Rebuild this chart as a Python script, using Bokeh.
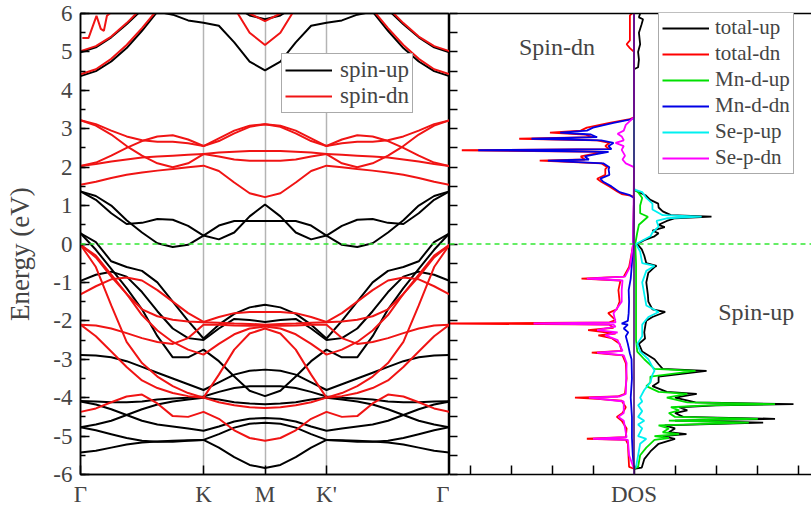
from bokeh.plotting import figure
from bokeh.models import (FixedTicker, Span, Label, Legend, LegendItem,
                          LinearAxis, Range1d)
from bokeh.layouts import row
from bokeh.embed import file_html
from bokeh.resources import INLINE

FONT = "Liberation Serif"

# ---------------- band structure data ----------------
# k-points along Γ -> K -> M (path Γ-K-M-K'-Γ is mirror-symmetric about M)
K_HALF = [0.0, 0.25, 0.5, 0.75, 1.0, 1.25, 1.5, 1.75, 2.0, 2.25, 2.5, 2.75, 3.0]
K_TICKS = [0, 2, 3, 4, 6]
K_TICK_LABELS = ["Γ", "K", "M", "K'", "Γ"]
E_TICKS = [-6, -5, -4, -3, -2, -1, 0, 1, 2, 3, 4, 5, 6]
E_TICK_LABELS = ["-6", "-5", "-4", "-3", "-2", "-1", "0", "1", "2", "3", "4", "5", "6"]

# spin-up bands (eV)
up_c1 = [4.37, 4.5, 4.75, 5.1, 5.55, 6.05, 5.97, 5.82, 5.76, 5.68, 5.25, 4.75, 4.52]
up_c2 = [4.99, 5.12, 5.38, 5.72, 6.1, 6.4, 6.5, 6.5, 6.5, 6.4, 6.2, 5.95, 5.85]
up_f1 = [1.37, 1.15, 0.8, 0.52, 0.55, 0.65, 0.63, 0.47, 0.22, 0.12, 0.3, 0.72, 1.03]
up_f2 = [1.37, 1.25, 1.0, 0.62, 0.3, 0.02, -0.08, -0.02, 0.22, 0.48, 0.6, 0.6, 0.6]
up_v1 = [0.28, 0.05, -0.45, -0.6, -0.7, -1.0, -1.5, -2.0, -2.46, -2.1, -1.82, -1.65, -1.58]
up_v2 = [0.28, -0.15, -0.65, -1.15, -1.7, -2.4, -2.95, -2.95, -2.75, -3.05, -3.45, -3.82, -3.96]
up_v3 = [-0.96, -0.8, -0.72, -0.85, -1.25, -1.75, -2.2, -2.45, -2.5, -2.2, -1.95, -1.98, -2.03]
up_v4 = [-2.89, -2.9, -2.95, -3.05, -3.2, -3.35, -3.5, -3.65, -3.8, -3.6, -3.4, -3.3, -3.27]
up_v5 = [-4.09, -4.1, -4.12, -4.12, -4.1, -4.05, -4.02, -4.0, -3.97, -3.85, -3.75, -3.7, -3.7]
up_v6 = [-4.1, -4.18, -4.3, -4.45, -4.6, -4.7, -4.75, -4.8, -4.86, -4.75, -4.62, -4.55, -4.53]
up_v7 = [-4.77, -4.7, -4.6, -4.45, -4.3, -4.18, -4.1, -4.05, -4.0, -4.05, -4.12, -4.15, -4.17]
up_v8 = [-4.77, -4.85, -4.95, -5.05, -5.12, -5.15, -5.15, -5.12, -5.1, -4.95, -4.78, -4.68, -4.65]
up_v9 = [-5.43, -5.38, -5.3, -5.22, -5.17, -5.14, -5.12, -5.11, -5.1, -5.3, -5.55, -5.75, -5.83]

# spin-dn bands (eV)
dn_c1 = [4.42, 4.55, 4.82, 5.18, 5.62, 6.1, 6.5, 6.6, 6.6, 6.5, 6.15, 5.5, 5.18]
dn_c2 = [5.02, 5.15, 5.4, 5.75, 6.15, 6.5, 6.6, 6.6, 6.6, 6.5, 6.3, 6.0, 5.8]
dn_d1 = [3.22, 3.08, 2.85, 2.55, 2.3, 2.1, 2.0, 2.1, 2.34, 2.38, 2.4, 2.42, 2.42]
dn_d2 = [3.22, 3.12, 2.95, 2.8, 2.7, 2.66, 2.66, 2.62, 2.55, 2.75, 2.95, 3.08, 3.12]
dn_d3 = [2.03, 2.12, 2.3, 2.5, 2.68, 2.8, 2.83, 2.72, 2.55, 2.68, 2.88, 3.05, 3.12]
dn_d4 = [2.03, 2.08, 2.15, 2.2, 2.25, 2.28, 2.3, 2.32, 2.34, 2.28, 2.2, 2.17, 2.17]
dn_d5 = [1.54, 1.62, 1.72, 1.8, 1.86, 1.91, 1.95, 2.0, 2.04, 1.9, 1.6, 1.32, 1.22]
dn_v1 = [-0.02, -0.3, -0.8, -1.3, -1.7, -1.88, -1.97, -2.02, -2.04, -2.05, -2.07, -2.08, -2.1]
dn_v2 = [-0.02, -0.35, -0.85, -1.3, -1.85, -2.25, -2.55, -2.75, -2.88, -2.6, -2.35, -2.2, -2.15]
dn_v3 = [-0.02, -0.6, -1.6, -2.55, -3.1, -3.45, -3.7, -3.88, -4.0, -4.12, -4.2, -4.25, -4.27]
dn_v4 = [-1.31, -1.1, -0.92, -0.87, -0.95, -1.2, -1.5, -1.8, -2.03, -1.9, -1.8, -1.77, -1.77]
dn_v5 = [-2.1, -2.12, -2.2, -2.32, -2.45, -2.55, -2.6, -2.45, -2.1, -2.1, -2.12, -2.13, -2.13]
dn_v6 = [-2.1, -2.4, -2.8, -3.2, -3.55, -3.75, -3.88, -3.96, -4.0, -3.4, -2.75, -2.33, -2.2]
dn_v7 = [-4.37, -4.28, -4.12, -3.97, -3.92, -4.15, -4.48, -4.5, -4.37, -4.55, -4.85, -5.05, -5.12]

# jagged spin-dn feature near Γ at the top
DN_SPIKE_K = [0.03, 0.13, 0.26, 0.33, 0.38, 0.43, 0.49]
DN_SPIKE_E = [5.36, 5.36, 5.94, 5.6, 5.55, 5.94, 6.02]

UP_BANDS = [up_c1, up_c2, up_f1, up_f2, up_v1, up_v2, up_v3, up_v4, up_v5,
            up_v6, up_v7, up_v8, up_v9]
DN_BANDS = [dn_c1, dn_c2, dn_d1, dn_d2, dn_d3, dn_d4, dn_d5, dn_v1, dn_v2,
            dn_v3, dn_v4, dn_v5, dn_v6, dn_v7]

# ---------------- DOS data: (energy eV, DOS) ----------------
total_up = [(-5.85, 0), (-5.82, 0.19), (-5.6, 0.25), (-5.4, 0.4), (-5.2, 0.6), (-5.07, 1.0),
            (-5.0, 0.7), (-4.95, 1.28), (-4.9, 0.85), (-4.8, 1.0), (-4.72, 0.75), (-4.65, 3.15),
            (-4.6, 1.0), (-4.55, 3.44), (-4.5, 1.2), (-4.4, 1.0), (-4.33, 1.3), (-4.25, 1.1),
            (-4.2, 2.0), (-4.17, 3.89), (-4.12, 1.5), (-4.0, 1.0), (-3.9, 1.53), (-3.85, 0.8),
            (-3.7, 0.45), (-3.6, 0.6), (-3.45, 0.6), (-3.3, 1.77), (-3.25, 0.7), (-3.13, 0.6),
            (-3.0, 0.5), (-2.8, 0.2), (-2.6, 0.12), (-2.46, 0.27), (-2.3, 0.25), (-2.1, 0.28),
            (-2.0, 0.3), (-1.9, 0.45), (-1.77, 0.76), (-1.7, 0.45), (-1.5, 0.35), (-1.34, 0.34),
            (-1.0, 0.3), (-0.75, 0.35), (-0.6, 0.5), (-0.57, 0.55), (-0.5, 0.3), (-0.3, 0.25),
            (-0.14, 0.19), (0.0, 0.08), (0.1, 0.25), (0.2, 0.5), (0.28, 0.6), (0.35, 0.45),
            (0.44, 0.75), (0.5, 0.6), (0.6, 0.8), (0.67, 1.0), (0.71, 1.89), (0.75, 0.9),
            (0.85, 0.7), (0.95, 0.6), (1.05, 0.59), (1.15, 0.4), (1.27, 0.28), (1.4, 0.02),
            (1.45, 0), (4.55, 0), (4.6, 0.1), (4.8, 0.12), (5.0, 0.1), (5.2, 0.15), (5.5, 0.12),
            (5.7, 0.18), (5.85, 0.22), (5.9, 0.12), (6.0, 0.15)]
total_dn = [(-5.85, 0), (-5.8, -0.12), (-5.2, -0.15), (-5.1, -0.2), (-5.07, -1.15), (-5.03, -0.2),
            (-4.8, -0.18), (-4.6, -0.3), (-4.5, -0.42), (-4.4, -0.28), (-4.25, -0.2), (-4.08, -0.3),
            (-4.03, -0.9), (-4.0, -1.44), (-3.97, -0.4), (-3.9, -0.22), (-3.5, -0.18), (-3.1, -0.2),
            (-2.9, -0.28), (-2.83, -1.03), (-2.78, -0.3), (-2.6, -0.35), (-2.45, -0.55),
            (-2.38, -0.87), (-2.33, -0.45), (-2.24, -1.12), (-2.18, -0.5), (-2.1, -0.6),
            (-2.07, -4.6), (-2.04, -0.6), (-1.98, -0.45), (-1.8, -0.63), (-1.7, -0.42),
            (-1.5, -0.35), (-1.2, -0.38), (-0.95, -0.33), (-0.9, -1.28), (-0.85, -0.25),
            (-0.6, -0.12), (-0.2, -0.05), (0.0, -0.02), (1.2, 0), (1.25, -0.05), (1.3, -0.3),
            (1.36, -0.4), (1.5, -0.6), (1.62, -0.8), (1.7, -0.9), (1.8, -0.7), (1.95, -0.7),
            (2.0, -0.65), (2.1, -0.8), (2.17, -2.3), (2.2, -1.2), (2.28, -1.3), (2.33, -1.05),
            (2.4, -0.7), (2.44, -4.2), (2.47, -0.6), (2.55, -0.7), (2.63, -0.6), (2.7, -0.9),
            (2.74, -2.8), (2.78, -1.0), (2.85, -1.2), (2.9, -2.05), (2.95, -1.3), (3.03, -1.15),
            (3.15, -0.6), (3.25, -0.1), (3.3, 0), (5.0, 0), (5.1, -0.1), (5.2, -0.18),
            (5.3, -0.1), (5.95, -0.1), (6.0, -0.05)]
mn_d_up = [(-5.85, 0), (-5.8, 0.1), (-5.5, 0.15), (-5.3, 0.3), (-5.1, 0.5), (-5.05, 0.85),
           (-5.0, 0.5), (-4.95, 1.1), (-4.9, 0.7), (-4.8, 0.85), (-4.72, 0.6), (-4.65, 2.8),
           (-4.6, 0.85), (-4.55, 3.02), (-4.5, 1.0), (-4.4, 0.85), (-4.33, 1.1), (-4.25, 0.9),
           (-4.2, 1.8), (-4.17, 3.44), (-4.12, 1.3), (-4.0, 0.8), (-3.9, 1.3), (-3.85, 0.6),
           (-3.7, 0.3), (-3.6, 0.4), (-3.45, 0.4), (-3.3, 1.5), (-3.25, 0.5), (-3.1, 0.35),
           (-3.0, 0.25), (-2.8, 0.08), (-2.5, 0.05), (-2.0, 0.05), (-1.5, 0.05), (-1.0, 0.05),
           (-0.5, 0.05), (0.0, 0.03), (0.3, 0.08), (0.5, 0.12), (0.71, 0.34), (0.8, 0.15),
           (1.0, 0.15), (1.2, 0.2), (1.35, 0.1), (1.42, 0), (6.0, 0)]
mn_d_dn = [(-5.85, 0), (-5.5, -0.03), (-5.05, -0.05), (-4.5, -0.05), (-4.0, -0.08), (-3.5, -0.05),
           (-3.0, -0.06), (-2.85, -0.1), (-2.6, -0.15), (-2.4, -0.2), (-2.3, -0.14), (-2.2, -0.25),
           (-2.1, -0.15), (-2.07, -0.3), (-2.0, -0.15), (-1.8, -0.13), (-1.5, -0.12), (-1.2, -0.13),
           (-0.9, -0.08), (-0.5, -0.05), (0.0, -0.02), (1.2, 0), (1.27, -0.1), (1.35, -0.35),
           (1.5, -0.55), (1.62, -0.75), (1.7, -0.82), (1.8, -0.6), (1.95, -0.62), (2.0, -0.6),
           (2.1, -0.75), (2.17, -2.1), (2.2, -1.1), (2.28, -1.2), (2.33, -0.95), (2.4, -0.62),
           (2.44, -3.8), (2.47, -0.55), (2.55, -0.62), (2.63, -0.5), (2.7, -0.8), (2.74, -2.5),
           (2.78, -0.9), (2.85, -1.05), (2.9, -1.8), (2.95, -1.15), (3.03, -1.0), (3.15, -0.5),
           (3.25, -0.05), (3.3, 0), (6.0, 0)]
se_p_up = [(-5.85, 0), (-5.8, 0.05), (-5.5, 0.1), (-5.2, 0.15), (-5.07, 0.3), (-5.0, 0.1),
           (-4.8, 0.2), (-4.7, 0.1), (-4.6, 0.25), (-4.5, 0.1), (-4.35, 0.2), (-4.2, 0.1),
           (-4.1, 0.2), (-4.0, 0.15), (-3.8, 0.25), (-3.6, 0.4), (-3.4, 0.45), (-3.3, 0.5),
           (-3.2, 0.45), (-3.0, 0.35), (-2.8, 0.15), (-2.6, 0.08), (-2.4, 0.2), (-2.1, 0.2),
           (-1.9, 0.35), (-1.77, 0.6), (-1.6, 0.3), (-1.3, 0.25), (-1.0, 0.2), (-0.7, 0.3),
           (-0.57, 0.5), (-0.5, 0.2), (-0.2, 0.15), (0.0, 0.05), (0.2, 0.4), (0.3, 0.45),
           (0.45, 0.6), (0.6, 0.55), (0.67, 0.8), (0.71, 1.65), (0.75, 0.7), (0.9, 0.45),
           (1.05, 0.45), (1.2, 0.3), (1.35, 0.2), (1.42, 0.0), (6.0, 0)]
se_p_dn = [(-5.85, 0), (-5.5, -0.12), (-5.1, -0.15), (-5.07, -1.0), (-5.03, -0.18), (-4.6, -0.25),
           (-4.5, -0.38), (-4.4, -0.25), (-4.1, -0.25), (-4.0, -1.1), (-3.97, -0.35), (-3.9, -0.2),
           (-3.1, -0.18), (-2.9, -0.25), (-2.83, -0.9), (-2.78, -0.28), (-2.5, -0.4), (-2.38, -0.7),
           (-2.3, -0.4), (-2.24, -0.9), (-2.15, -0.45), (-2.1, -0.5), (-2.07, -2.45), (-2.04, -0.45),
           (-1.8, -0.5), (-1.5, -0.3), (-1.2, -0.3), (-0.95, -0.28), (-0.9, -1.15), (-0.85, -0.22),
           (-0.6, -0.1), (0.0, -0.02), (2.0, 0), (2.1, -0.2), (2.2, -0.28), (2.3, -0.22),
           (2.45, -0.3), (2.55, -0.25), (2.63, -0.45), (2.7, -0.25), (2.8, -0.3), (2.87, -0.4),
           (2.95, -0.25), (3.1, -0.2), (3.25, -0.05), (3.3, 0), (6.0, 0)]

DOS_LABEL_TICK = [0]
DOS_MINOR_TICKS = [-4, -3, -2, -1, 1, 2, 3, 4]

# ---------------- styling helpers ----------------
BLACK, RED = "#000000", "#f01414"
H = 512
W_LEFT, W_RIGHT = 449, 362
TOP, BOTTOM = 13, 38
E_HALF_TICKS = [-6 + 0.5 * i for i in range(25)]


def full_path(vals):
    ks = K_HALF + [6 - k for k in reversed(K_HALF[:-1])]
    es = list(vals) + list(vals[::-1][1:])
    return ks, es


def spine_axis():
    return LinearAxis(ticker=FixedTicker(ticks=[], minor_ticks=[]),
                      major_tick_in=0, major_tick_out=0, minor_tick_in=0, minor_tick_out=0,
                      major_label_standoff=0, axis_line_width=1.5, axis_line_color="black")


# ---------------- band structure figure ----------------
band = figure(width=W_LEFT, height=H, output_backend="svg", toolbar_location=None,
              x_range=Range1d(0, 6), y_range=Range1d(-6, 6),
              min_border_left=80, min_border_right=0, min_border_top=TOP,
              min_border_bottom=BOTTOM)
band.outline_line_color = "black"
band.outline_line_width = 1.5
band.border_fill_color = "white"
band.ygrid.visible = False
band.xgrid.ticker = FixedTicker(ticks=[2, 3, 4])
band.xgrid.grid_line_color = "#b4b4b4"
band.xgrid.grid_line_width = 1.5

xa = band.below[0]
xa.ticker = FixedTicker(ticks=K_TICKS, minor_ticks=[])
xa.major_label_overrides = dict(zip(K_TICKS, K_TICK_LABELS))
xa.major_tick_in, xa.major_tick_out = 9, 0
xa.minor_tick_in, xa.minor_tick_out = 0, 0
xa.major_label_text_font = FONT
xa.major_label_text_font_size = "23px"
xa.major_label_standoff = 7
xa.axis_line_width = 1.5
xa.major_tick_line_width = 1.5

ya = band.left[0]
ya.ticker = FixedTicker(ticks=E_TICKS, minor_ticks=E_HALF_TICKS)
ya.major_label_overrides = dict(zip(E_TICKS, E_TICK_LABELS))
ya.major_tick_in, ya.major_tick_out = 9, 0
ya.minor_tick_in, ya.minor_tick_out = 5, 0
ya.major_tick_line_width = 1.5
ya.minor_tick_line_width = 1.5
ya.major_label_text_font = FONT
ya.major_label_text_font_size = "23px"
ya.major_label_standoff = 8
ya.axis_line_width = 1.5
# trailing no-break spaces nudge the centred title slightly downward, as in the original
ya.axis_label = "Energy (eV)\u00a0\u00a0\u00a0"
ya.axis_label_text_font = FONT
ya.axis_label_text_font_style = "normal"
ya.axis_label_text_font_size = "27px"
ya.axis_label_standoff = 15

band.add_layout(spine_axis(), "above")

up_renderers = []
for b in UP_BANDS:
    ks, es = full_path(b)
    up_renderers.append(band.line(ks, es, line_color=BLACK, line_width=2))
dn_renderers = []
for b in DN_BANDS:
    ks, es = full_path(b)
    dn_renderers.append(band.line(ks, es, line_color=RED, line_width=2))
band.line(DN_SPIKE_K, DN_SPIKE_E, line_color=RED, line_width=2)

band.add_layout(Span(location=0, dimension="width", line_color="#33e833",
                     line_dash="5 4", line_width=1.4))

leg1 = Legend(items=[LegendItem(label="spin-up", renderers=[up_renderers[0]]),
                     LegendItem(label="spin-dn", renderers=[dn_renderers[0]])],
              location=(201, 361), label_text_font=FONT, label_text_font_size="23px",
              glyph_width=47, glyph_height=20, label_height=20, label_standoff=8,
              spacing=0, padding=3, margin=0, border_line_color="#555555",
              border_line_width=1, background_fill_color="white", background_fill_alpha=1)
band.add_layout(leg1)

# ---------------- DOS figure ----------------
dos = figure(width=W_RIGHT, height=H, output_backend="svg", toolbar_location=None,
             x_range=Range1d(-4.5, -4.5 + W_RIGHT / 41.0), y_range=Range1d(-6, 6),
             min_border_left=0, min_border_right=0, min_border_top=TOP,
             min_border_bottom=BOTTOM)
dos.outline_line_color = None
dos.grid.visible = False
dos.border_fill_color = "white"

dxa = dos.below[0]
dxa.ticker = FixedTicker(ticks=DOS_LABEL_TICK, minor_ticks=DOS_MINOR_TICKS)
dxa.major_label_overrides = {0: "DOS"}
dxa.major_tick_in, dxa.major_tick_out = 9, 0
dxa.minor_tick_in, dxa.minor_tick_out = 9, 0
dxa.major_label_text_font = FONT
dxa.major_label_text_font_size = "23px"
dxa.major_label_standoff = 7
dxa.axis_line_width = 1.5
dxa.major_tick_line_width = 1.5
dxa.minor_tick_line_width = 1.5

dya = dos.left[0]
dya.ticker = FixedTicker(ticks=[], minor_ticks=E_HALF_TICKS)
dya.major_tick_in, dya.major_tick_out = 0, 0
dya.minor_tick_in, dya.minor_tick_out = 8, 0
dya.minor_tick_line_width = 1.5
dya.major_label_standoff = 0
dya.axis_line_width = 1.5

dos.add_layout(spine_axis(), "above")

dos.add_layout(Span(location=0, dimension="width", line_color="#33e833",
                    line_dash="5 4", line_width=1.4))

series = [("total-up", total_up, "#000000"), ("total-dn", total_dn, "#ff0000"),
          ("Mn-d-up", mn_d_up, "#00e000"), ("Mn-d-dn", mn_d_dn, "#0000e6"),
          ("Se-p-up", se_p_up, "#00f0f0"), ("Se-p-dn", se_p_dn, "#ff00ff")]
items = []
for name, data, color in series:
    es = [d[0] for d in data]
    vs = [d[1] for d in data]
    r = dos.line(vs, es, line_color=color, line_width=1.8)
    items.append(LegendItem(label=name, renderers=[r]))

dos.add_layout(Span(location=0, dimension="height", line_color="#4a1070", line_width=1.6))

dos.add_layout(Label(x=-1.88, y=5.12, text="Spin-dn", text_font=FONT, text_font_size="24px",
                     text_align="center", text_baseline="middle"))
dos.add_layout(Label(x=2.98, y=-1.77, text="Spin-up", text_font=FONT, text_font_size="24px",
                     text_align="center", text_baseline="middle"))

leg2 = Legend(items=items, location=(209, 300), label_text_font=FONT,
              label_text_font_size="21px", glyph_width=47, glyph_height=20, label_height=20,
              label_standoff=6, spacing=1, padding=3, margin=0,
              border_line_color="#555555", border_line_width=1,
              background_fill_color="white", background_fill_alpha=1)
dos.add_layout(leg2)

layout = row(band, dos)
open("out.html", "w").write(file_html(layout, INLINE))
